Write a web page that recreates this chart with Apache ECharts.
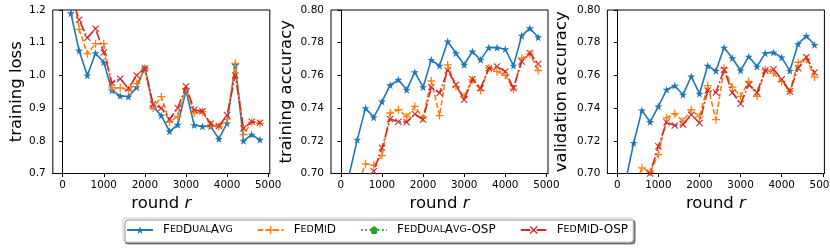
<!DOCTYPE html>
<html>
<head>
<meta charset="utf-8">
<script src="https://cdn.jsdelivr.net/npm/echarts@6/dist/echarts.min.js"></script>
<style>
html,body{margin:0;padding:0;background:#fff;}
#c{width:830px;height:249px;}
</style>
</head>
<body>
<div id="c"></div>
<script>
// ---- data ----
const rounds = [0,200,400,600,800,1000,1200,1400,1600,1800,2000,2200,2400,2600,2800,3000,3200,3400,3600,3800,4000,4200,4400,4600,4800];
const xTicks = [0,1000,2000,3000,4000,5000];
const lossTicks = [0.7,0.8,0.9,1.0,1.1,1.2];
const accTicks = [0.70,0.72,0.74,0.76,0.78,0.80];
const seriesNames = ['FedDualAvg','FedMiD','FedDualAvg-OSP','FedMiD-OSP'];

const blueLoss   = [1.60,1.19,1.076,1.000,1.068,1.040,0.954,0.937,0.935,0.964,1.023,0.905,0.877,0.829,0.849,0.954,0.848,0.844,0.844,0.806,0.854,1.032,0.800,0.819,0.803];
const orangeLoss = [1.55,1.307,1.141,1.066,1.097,1.097,0.962,0.962,0.955,0.975,1.020,0.900,0.935,0.857,0.875,0.960,0.885,0.889,0.849,0.843,0.866,1.037,0.819,0.857,0.853];
const greenLoss  = []; // not visible in the reference plot (legend entry only)
const redLoss    = [1.40,1.245,1.170,1.115,1.143,1.070,0.977,0.990,0.960,1.000,1.022,0.912,0.900,0.866,0.900,0.966,0.895,0.890,0.852,0.845,0.878,1.000,0.838,0.858,0.855];

const blueTrain   = [0.600,0.699,0.7207,0.740,0.7343,0.744,0.754,0.7573,0.7512,0.762,0.7528,0.7695,0.7659,0.7807,0.7736,0.7665,0.7746,0.7695,0.777,0.777,0.776,0.766,0.7843,0.7888,0.7833];
const orangeTrain = [0.600,0.650,0.693,0.7059,0.705,0.711,0.737,0.739,0.7346,0.741,0.734,0.7567,0.7354,0.7665,0.7532,0.747,0.7573,0.7508,0.7644,0.7624,0.760,0.7516,0.7705,0.7732,0.763];
const greenTrain  = [];
const redTrain    = [0.600,0.650,0.680,0.697,0.7014,0.7157,0.7333,0.7317,0.7313,0.7364,0.733,0.7528,0.7492,0.763,0.7543,0.7451,0.7577,0.7522,0.7644,0.7654,0.7624,0.7522,0.7685,0.7736,0.767];

const blueVal   = [0.600,0.695,0.7187,0.7386,0.7315,0.741,0.7512,0.7537,0.7482,0.7593,0.7488,0.7659,0.7628,0.777,0.7705,0.763,0.7715,0.7654,0.7736,0.774,0.771,0.7628,0.7793,0.7841,0.7787];
const orangeVal = [0.600,0.650,0.690,0.7035,0.7008,0.7116,0.734,0.7366,0.732,0.739,0.7346,0.7537,0.733,0.7644,0.7528,0.7472,0.7563,0.7472,0.7634,0.7614,0.7563,0.7502,0.7679,0.770,0.759];
const greenVal  = [];
const redVal    = [0.600,0.650,0.680,0.690,0.700,0.7167,0.7313,0.7293,0.7299,0.736,0.7309,0.7508,0.7496,0.7634,0.7496,0.7427,0.7543,0.7496,0.763,0.7638,0.7577,0.7502,0.7644,0.7711,0.7618];

// ---- styling ----
const colors = ['#1f77b4','#ff7f0e','#2ca02c','#d62728'];
const STAR = 'path://M5,0L6.123,3.455L9.755,3.455L6.817,5.59L7.939,9.045L5,6.91L2.061,9.045L3.183,5.59L0.245,3.455L3.877,3.455Z';
const PLUS = 'path://M4.2,0H5.8V4.2H10V5.8H5.8V10H4.2V5.8H0V4.2H4.2Z';
const PENT = 'path://M5,0L9.755,3.455L7.939,9.045L2.061,9.045L0.245,3.455Z';
const CROSS = 'path://M0,1.1L1.1,0L5,3.9L8.9,0L10,1.1L6.1,5L10,8.9L8.9,10L5,6.1L1.1,10L0,8.9L3.9,5Z';
const symbols = [STAR, PLUS, PENT, CROSS];
const symSizes = [8, 8, 7, 7];
const dashes = ['solid', [5.5,2.4], [1.6,2.6], [9.6,2.4,1.6,2.4]];

const FONT = 'DejaVu Sans';
const grids = [
  {left: 52.8, top: 10, width: 217, height: 163.5},
  {left: 331, top: 10, width: 217, height: 163.5},
  {left: 607.4, top: 10, width: 217, height: 163.5}
];
const panels = [
  {name: 'training loss', data: [blueLoss, orangeLoss, greenLoss, redLoss], ticks: lossTicks, dec: 1, gap: 28},
  {name: 'training accuracy', data: [blueTrain, orangeTrain, greenTrain, redTrain], ticks: accTicks, dec: 2, gap: 36},
  {name: 'validation accuracy', data: [blueVal, orangeVal, greenVal, redVal], ticks: accTicks, dec: 2, gap: 37}
];

function smallCaps(s) {
  let out = '{sp|}';
  let cur = null, buf = '';
  for (const ch of s) {
    const isLow = ch >= 'a' && ch <= 'z';
    const st = isLow ? 's' : 'b';
    if (st !== cur) { if (buf) out += '{' + cur + '|' + buf + '}'; buf = ''; cur = st; }
    buf += isLow ? ch.toUpperCase() : ch;
  }
  if (buf) out += '{' + cur + '|' + buf + '}';
  return out;
}

const xAxes = [], yAxes = [], series = [];
panels.forEach((p, i) => {
  xAxes.push({
    type: 'value', gridIndex: i, min: -240, max: 5040,
    name: 'round {i|r}', nameLocation: 'middle', nameGap: 15,
    nameTextStyle: {fontFamily: FONT, fontSize: 16.5, color: '#000',
      rich: {i: {fontStyle: 'italic', fontFamily: FONT, fontSize: 16.5, color: '#000'}}},
    axisLine: {show: true, onZero: false, lineStyle: {color: '#000', width: 1}},
    axisTick: {show: true, inside: false, length: 3.5, customValues: xTicks, lineStyle: {color: '#000', width: 1}},
    axisLabel: {show: true, customValues: xTicks, margin: 7, fontFamily: FONT, fontSize: 10.4, color: '#000',
      formatter: v => String(Math.round(v)),
      hideOverlap: false, showMinLabel: true, showMaxLabel: true},
    splitLine: {show: false}
  });
  yAxes.push({
    type: 'value', gridIndex: i, min: p.ticks[0], max: p.ticks[p.ticks.length - 1],
    name: p.name, nameLocation: 'middle', nameGap: p.gap,
    nameTextStyle: {fontFamily: FONT, fontSize: 16.5, color: '#000'},
    axisLine: {show: true, lineStyle: {color: '#000', width: 1}},
    axisTick: {show: true, inside: false, length: 3.5, customValues: p.ticks, lineStyle: {color: '#000', width: 1}},
    axisLabel: {show: true, customValues: p.ticks, margin: 7, fontFamily: FONT, fontSize: 10.5, color: '#000',
      formatter: v => Number(v).toFixed(p.dec), showMinLabel: true, showMaxLabel: true},
    splitLine: {show: false}
  });
  p.data.forEach((vals, k) => {
    series.push({
      name: seriesNames[k], type: 'line', xAxisIndex: i, yAxisIndex: i,
      data: vals.map((v, j) => [rounds[j], v]),
      clip: true, animation: false,
      symbol: symbols[k], symbolSize: symSizes[k], showAllSymbol: true,
      lineStyle: {color: colors[k], width: 1.6, type: dashes[k]},
      itemStyle: {color: colors[k], borderWidth: 0},
      emphasis: {disabled: true},
      z: 2 + k
    });
  });
});

const chart = echarts.init(document.getElementById('c'), null, {renderer: 'canvas'});
chart.setOption({
  animation: false,
  backgroundColor: '#fff',
  grid: grids.map(g => Object.assign({show: true, borderColor: '#000', borderWidth: 1, backgroundColor: 'transparent',
    containLabel: false, outerBoundsMode: 'none'}, g)),
  xAxis: xAxes,
  yAxis: yAxes,
  legend: {
    data: seriesNames,
    left: 123, top: 218,
    orient: 'horizontal',
    itemWidth: 26, itemHeight: 10, itemGap: 24,
    padding: [6, 5, 6, 3],
    backgroundColor: '#fff',
    borderColor: '#cccccc', borderWidth: 1, borderRadius: 3,
    shadowColor: 'rgba(0,0,0,0.45)', shadowOffsetX: 2, shadowOffsetY: 2, shadowBlur: 0,
    formatter: n => smallCaps(n),
    textStyle: {
      fontFamily: FONT, color: '#000',
      rich: {
        sp: {width: 5},
        b: {fontFamily: FONT, fontSize: 12, color: '#000'},
        s: {fontFamily: FONT, fontSize: 9.4, color: '#000'}
      }
    }
  },
  series: series
});
</script>
</body>
</html>
